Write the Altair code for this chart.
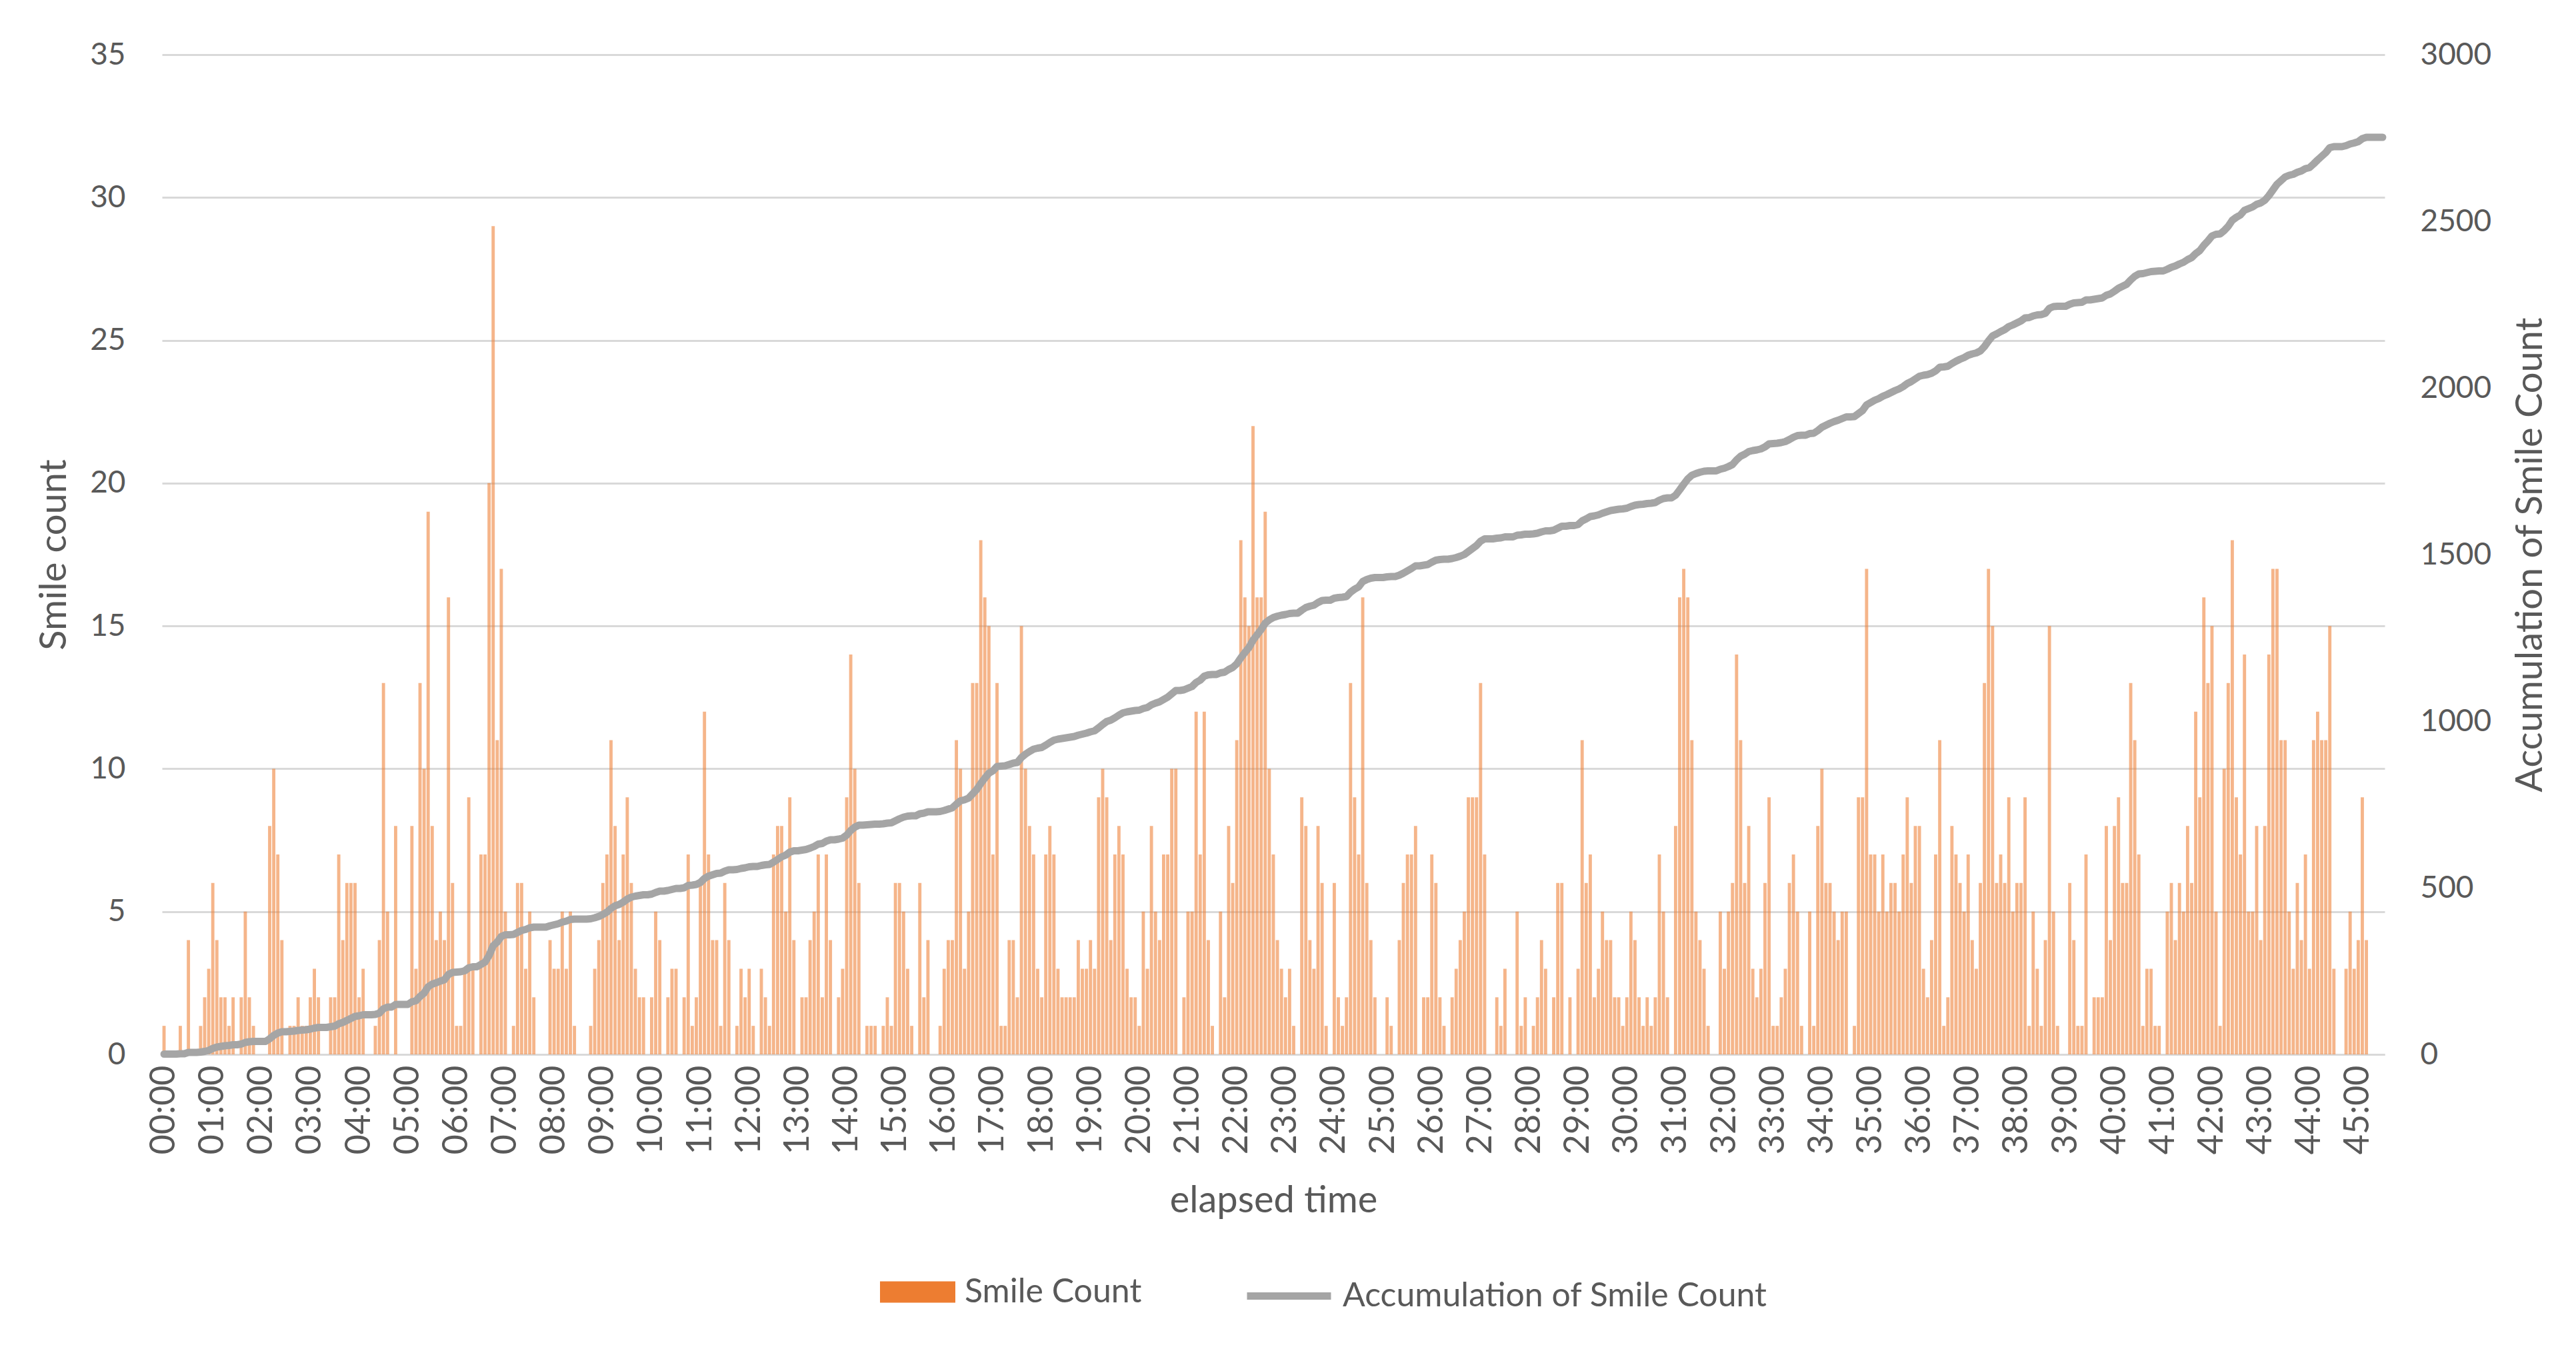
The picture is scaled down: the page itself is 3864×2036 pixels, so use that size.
import altair as alt
import pandas as pd

# Smile counts per 5-second bin (one row = one minute)
counts_00_09 = [
    1, 0, 0, 0, 1, 0, 4, 0, 0, 1, 2, 3,
    6, 4, 2, 2, 1, 2, 0, 2, 5, 2, 1, 0,
    0, 0, 8, 10, 7, 4, 0, 1, 1, 2, 1, 1,
    2, 3, 2, 0, 0, 2, 2, 7, 4, 6, 6, 6,
    2, 3, 0, 0, 1, 4, 13, 5, 0, 8, 0, 0,
    0, 8, 3, 13, 10, 19, 8, 4, 5, 4, 16, 6,
    1, 1, 3, 9, 3, 0, 7, 7, 20, 29, 11, 17,
    5, 0, 1, 6, 6, 3, 5, 2, 0, 0, 0, 4,
    3, 3, 5, 3, 5, 1, 0, 0, 0, 1, 3, 4,
    6, 7, 11, 8, 4, 7, 9, 6, 3, 2, 2, 0,
]
counts_10_19 = [
    2, 5, 4, 0, 2, 3, 3, 0, 2, 7, 1, 2,
    6, 12, 7, 4, 4, 1, 6, 4, 0, 1, 3, 2,
    3, 1, 0, 3, 2, 1, 7, 8, 8, 5, 9, 4,
    0, 2, 2, 4, 5, 7, 2, 7, 4, 0, 2, 3,
    9, 14, 10, 6, 0, 1, 1, 1, 0, 1, 2, 1,
    6, 6, 5, 3, 1, 0, 6, 2, 4, 0, 0, 1,
    3, 4, 4, 11, 10, 3, 5, 13, 13, 18, 16, 15,
    7, 13, 1, 1, 4, 4, 2, 15, 10, 8, 7, 3,
    2, 7, 8, 7, 3, 2, 2, 2, 2, 4, 3, 3,
    4, 3, 9, 10, 9, 4, 7, 8, 7, 3, 2, 2,
]
counts_20_29 = [
    1, 5, 3, 8, 5, 4, 7, 7, 10, 10, 0, 2,
    5, 5, 12, 7, 12, 4, 1, 0, 5, 2, 8, 6,
    11, 18, 16, 15, 22, 16, 16, 19, 10, 7, 4, 3,
    2, 3, 1, 0, 9, 8, 4, 3, 8, 6, 1, 0,
    6, 2, 1, 2, 13, 9, 7, 16, 6, 4, 2, 0,
    0, 2, 1, 0, 4, 6, 7, 7, 8, 0, 2, 2,
    7, 6, 2, 1, 0, 2, 3, 4, 5, 9, 9, 9,
    13, 7, 0, 0, 2, 1, 3, 0, 0, 5, 1, 2,
    0, 1, 2, 4, 3, 0, 2, 6, 6, 0, 2, 0,
    3, 11, 6, 7, 2, 3, 5, 4, 4, 2, 2, 1,
]
counts_30_39 = [
    2, 5, 4, 2, 1, 2, 1, 2, 7, 5, 2, 0,
    8, 16, 17, 16, 11, 5, 4, 3, 1, 0, 0, 5,
    3, 5, 6, 14, 11, 6, 8, 3, 2, 3, 6, 9,
    1, 1, 2, 3, 6, 7, 5, 1, 0, 5, 1, 8,
    10, 6, 6, 5, 4, 5, 5, 0, 1, 9, 9, 17,
    7, 7, 5, 7, 5, 6, 6, 5, 7, 9, 6, 8,
    8, 3, 2, 4, 7, 11, 1, 2, 8, 7, 6, 5,
    7, 4, 3, 6, 13, 17, 15, 6, 7, 6, 9, 5,
    6, 6, 9, 1, 5, 3, 1, 4, 15, 5, 1, 0,
    0, 6, 4, 1, 1, 7, 0, 2, 2, 2, 8, 4,
]
counts_40_45 = [
    8, 9, 6, 6, 13, 11, 7, 1, 3, 3, 1, 1,
    0, 5, 6, 4, 6, 5, 8, 6, 12, 9, 16, 13,
    15, 5, 1, 10, 13, 18, 9, 7, 14, 5, 5, 8,
    4, 8, 14, 17, 17, 11, 11, 5, 3, 6, 4, 7,
    3, 11, 12, 11, 11, 15, 3, 0, 0, 3, 5, 3,
    4, 9, 4, 0, 0, 0, 0,
]

smile_counts = counts_00_09 + counts_10_19 + counts_20_29 + counts_30_39 + counts_40_45
bin_seconds = 5
elapsed = [f"{(i * bin_seconds) // 60:02d}:{(i * bin_seconds) % 60:02d}" for i in range(len(smile_counts))]
minute_ticks = [f"{m:02d}:00" for m in range(46)]
left_ticks = [0, 5, 10, 15, 20, 25, 30, 35]
right_ticks = [0, 500, 1000, 1500, 2000, 2500, 3000]
series_names = ["Smile Count", "Accumulation of Smile Count"]

df = pd.DataFrame({"idx": list(range(len(smile_counts))), "elapsed": elapsed, "count": smile_counts})

FONT = "Lato"
TXT = "#595959"
GRID = "#d9d9d9"
ORANGE = "#ED7D31"
GRAY = "#A5A5A5"
W, H = 3334, 1500
TICK_FS = 46
XLAB_FS = 52
TITLE_FS = 56
LEG_FS = 50

base = alt.Chart(df).transform_window(
    cum="sum(count)", sort=[alt.SortField("idx")], frame=[None, 0]
).transform_calculate(
    s1=f"'{series_names[0]}'", s2=f"'{series_names[1]}'"
)

x_enc = alt.X(
    "elapsed:N",
    scale=alt.Scale(paddingInner=0.2, paddingOuter=0.1),
    axis=alt.Axis(
        values=minute_ticks, labelAngle=270, labelAlign="right", labelBaseline="middle",
        labelPadding=16, ticks=False, tickSize=0, domainColor=GRID, domainWidth=3,
        grid=False, labelOverlap=False, labelFont=FONT, labelFontSize=XLAB_FS, labelColor=TXT,
        title="elapsed time", titleFont=FONT, titleFontSize=TITLE_FS, titleColor=TXT,
        titleFontWeight="normal", titleX=W / 2, titleY=219, titleAlign="center",
        titleBaseline="middle",
    ),
)

bars = base.mark_bar(fillOpacity=0.57).encode(
    x=x_enc,
    y=alt.Y(
        "count:Q",
        scale=alt.Scale(domain=[0, 35]),
        axis=alt.Axis(
            values=left_ticks, grid=True, gridColor=GRID, gridWidth=3, domain=False,
            ticks=False, tickSize=0, labelPadding=55, labelFont=FONT, labelFontSize=TICK_FS,
            labelColor=TXT, title="Smile count", titleFont=FONT, titleFontSize=TITLE_FS,
            titleColor=TXT, titleFontWeight="normal", titleAngle=270, titleX=-162,
            titleY=H / 2, titleAlign="center", titleBaseline="middle",
        ),
    ),
    fill=alt.Fill(
        "s1:N",
        scale=alt.Scale(domain=[series_names[0]], range=[ORANGE]),
        legend=alt.Legend(
            title=None, orient="none", legendX=1077, legendY=1800,
            symbolType="M-1,-0.283H1V0.283H-1Z", symbolSize=12769, symbolOpacity=1,
            symbolStrokeWidth=0, labelFont=FONT, labelFontSize=LEG_FS, labelColor=TXT,
            labelOffset=14, labelLimit=2000,
        ),
    ),
)

line = base.mark_line(strokeWidth=11, strokeCap="round", strokeJoin="round").encode(
    x=x_enc,
    y=alt.Y(
        "cum:Q",
        scale=alt.Scale(domain=[0, 3000]),
        axis=alt.Axis(
            orient="right", values=right_ticks, format="d", grid=False, domain=False,
            ticks=False, tickSize=0, labelPadding=53, labelFont=FONT, labelFontSize=TICK_FS,
            labelColor=TXT, title="Accumulation of Smile Count", titleFont=FONT,
            titleFontSize=TITLE_FS, titleColor=TXT, titleFontWeight="normal", titleAngle=270,
            titleX=218, titleY=H / 2, titleAlign="center", titleBaseline="middle",
        ),
    ),
    stroke=alt.Stroke(
        "s2:N",
        scale=alt.Scale(domain=[series_names[1]], range=[GRAY]),
        legend=alt.Legend(
            title=None, orient="none", legendX=1622, legendY=1794,
            symbolType="stroke", symbolSize=15876, symbolStrokeWidth=11,
            labelFont=FONT, labelFontSize=LEG_FS, labelColor=TXT, labelOffset=12,
            labelLimit=2000,
        ),
    ),
)

chart = (
    alt.layer(bars, line)
    .resolve_scale(y="independent", fill="independent", stroke="independent")
    .properties(
        width=W, height=H,
        autosize=alt.AutoSizeParams(type="none"),
        padding={"left": 235, "top": 74, "right": 279, "bottom": 446},
        background="white",
    )
    .configure_view(strokeWidth=0)
)

chart.save("out.html", embed_options={"renderer": "svg", "actions": False})
